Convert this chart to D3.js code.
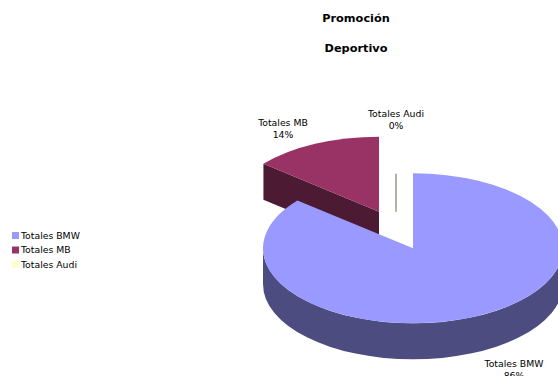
<!DOCTYPE html>
<html>
<head>
<meta charset="utf-8">
<script src="https://cdn.jsdelivr.net/npm/d3@7"></script>
<style>
  html, body { margin: 0; padding: 0; background: #fff; }
  svg { display: block; }
  text { font-family: "DejaVu Sans", Verdana, sans-serif; fill: #000; }
</style>
</head>
<body>
<svg id="chart" width="558" height="376"></svg>
<script>
// Series data
const categories = ["Totales BMW", "Totales MB", "Totales Audi"];
const values = [86, 14, 0];
const percentLabels = ["86%", "14%", "0%"];
const titleLines = ["Promoción", "Deportivo"];

// Colours: top face and darker wall shade per slice
const topColors = ["#9999FF", "#993366", "#FFFFCC"];
const wallColors = ["#4C4C80", "#4D1A33", "#7F7F66"];

const svg = d3.select("#chart");

// Title
svg.selectAll("text.title")
  .data(titleLines)
  .join("text")
  .attr("class", "title")
  .attr("x", 356)
  .attr("y", (d, i) => 22 + i * 30)
  .attr("text-anchor", "middle")
  .attr("font-size", 11.3)
  .attr("font-weight", "bold")
  .text(d => d);

// Legend
const legend = svg.append("g").attr("transform", "translate(12,232)");
const li = legend.selectAll("g").data(categories).join("g")
  .attr("transform", (d, i) => `translate(0,${i * 14.5})`);
li.append("rect").attr("width", 7).attr("height", 7)
  .attr("fill", (d, i) => topColors[i]);
li.append("text").attr("x", 9).attr("y", 6.8)
  .attr("font-size", 9.3).text(d => d);

// 3D pie geometry
const cx = 396, cy = 230;     // un-exploded centre
const rx = 150, ry = 75;      // ellipse radii of the top face
const depth = 36;             // thickness of the disc
const explode = 0.27;         // explosion as fraction of radius

const pie = d3.pie().sort(null).startAngle(0).endAngle(2 * Math.PI).value(d => d);
const arcs = pie(values).map((a, i) => {
  const mid = (a.startAngle + a.endAngle) / 2;
  return {
    ...a, i,
    ox: cx + Math.sin(mid) * 148 * explode,
    oy: cy - Math.cos(mid) * ry * explode
  };
});

const pt = (s, ang, dy = 0) => [s.ox + Math.sin(ang) * rx, s.oy - Math.cos(ang) * ry + dy];

function topPath(s) {
  const p0 = pt(s, s.startAngle), p1 = pt(s, s.endAngle);
  const large = (s.endAngle - s.startAngle) > Math.PI ? 1 : 0;
  return `M${s.ox},${s.oy}L${p0}A${rx},${ry} 0 ${large} 1 ${p1}Z`;
}

// Outer curved wall, only for the front half of the ellipse
function outerWallPath(s) {
  const b0 = Math.max(s.startAngle, Math.PI / 2);
  const b1 = Math.min(s.endAngle, 3 * Math.PI / 2);
  if (b1 <= b0) return null;
  const t0 = pt(s, b0), t1 = pt(s, b1);
  const d0 = pt(s, b0, depth), d1 = pt(s, b1, depth);
  return `M${t0}A${rx},${ry} 0 0 1 ${t1}L${d1}A${rx},${ry} 0 0 0 ${d0}Z`;
}

// Radial (cut) walls facing the viewer
function radialWalls(s) {
  const out = [];
  const walls = [
    { ang: s.startAngle, visible: Math.sin(s.startAngle) < -1e-9 },
    { ang: s.endAngle, visible: Math.sin(s.endAngle) > 1e-9 }
  ];
  walls.forEach(w => {
    if (!w.visible || s.endAngle - s.startAngle <= 0) return;
    const p = pt(s, w.ang);
    out.push(`M${s.ox},${s.oy}L${p}L${p[0]},${p[1] + depth}L${s.ox},${s.oy + depth}Z`);
  });
  return out;
}

const pieG = svg.append("g");
// paint back slices first: MB, Audi, then BMW in front
const order = [1, 2, 0];
order.forEach(idx => {
  const s = arcs[idx];
  const g = pieG.append("g");
  if (s.endAngle - s.startAngle <= 0) {
    // zero-valued slice shows only as a thin edge
    g.append("line")
      .attr("x1", s.ox).attr("x2", s.ox)
      .attr("y1", s.oy - depth).attr("y2", s.oy + 2)
      .attr("stroke", wallColors[idx]).attr("stroke-width", 1.2);
    return;
  }
  radialWalls(s).forEach(d => g.append("path").attr("d", d).attr("fill", wallColors[idx]));
  const ow = outerWallPath(s);
  if (ow) g.append("path").attr("d", ow).attr("fill", wallColors[idx]);
  g.append("path").attr("d", topPath(s)).attr("fill", topColors[idx]);
});

// Data labels
const labelPos = [[514, 367], [283, 126], [396, 117]];
arcs.forEach((s, i) => {
  const t = svg.append("text")
    .attr("text-anchor", "middle")
    .attr("font-size", 9.3)
    .attr("x", labelPos[i][0]).attr("y", labelPos[i][1]);
  t.append("tspan").attr("x", labelPos[i][0]).text(categories[i]);
  t.append("tspan").attr("x", labelPos[i][0]).attr("dy", 11.5).text(percentLabels[i]);
});
</script>
</body>
</html>
